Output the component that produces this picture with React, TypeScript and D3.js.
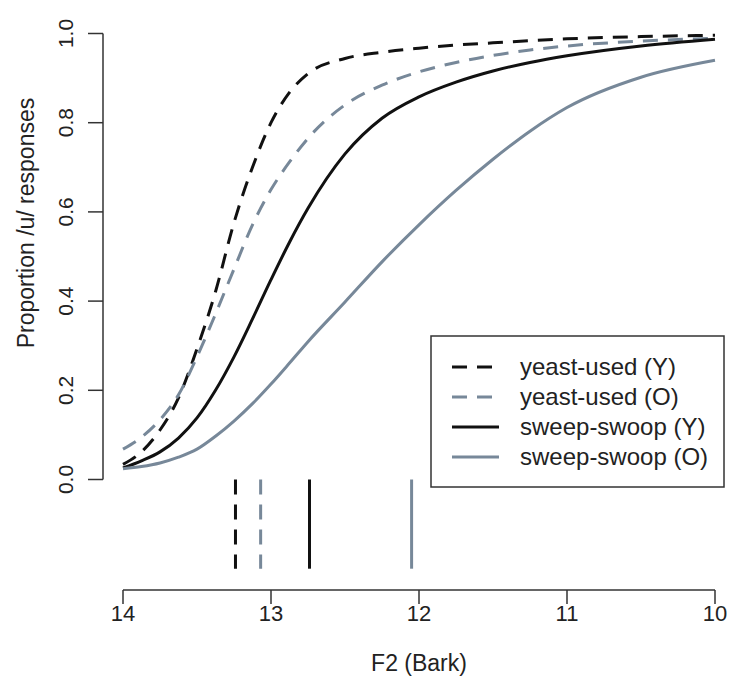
import React, { useRef, useEffect } from 'react';
import * as d3 from 'd3';

// F2 (Bark) sample points
const f2 = [14, 13.875, 13.75, 13.625, 13.5, 13.375, 13.25, 13.125, 13, 12.875, 12.75, 12.5, 12.25, 12, 11.75, 11.5, 11.25, 11, 10.5, 10];

// proportion /u/ responses
const yeastUsedY = [0.034, 0.062, 0.111, 0.183, 0.293, 0.421, 0.576, 0.700, 0.800, 0.868, 0.910, 0.944, 0.958, 0.967, 0.974, 0.979, 0.984, 0.988, 0.993, 0.996];
const yeastUsedO = [0.068, 0.095, 0.134, 0.190, 0.275, 0.371, 0.472, 0.571, 0.650, 0.712, 0.765, 0.840, 0.884, 0.914, 0.935, 0.951, 0.963, 0.972, 0.983, 0.989];
const sweepSwoopY = [0.026, 0.042, 0.062, 0.093, 0.138, 0.200, 0.275, 0.360, 0.448, 0.532, 0.608, 0.730, 0.810, 0.858, 0.891, 0.916, 0.935, 0.950, 0.972, 0.987];
const sweepSwoopO = [0.024, 0.029, 0.037, 0.050, 0.068, 0.097, 0.131, 0.170, 0.214, 0.261, 0.309, 0.398, 0.488, 0.571, 0.648, 0.718, 0.781, 0.834, 0.902, 0.940];

// 50% crossover boundaries
const boundaries = [13.24, 13.07, 12.74, 12.05];

const seriesNames = ['yeast-used (Y)', 'yeast-used (O)', 'sweep-swoop (Y)', 'sweep-swoop (O)'];

const xTicks = [14, 13, 12, 11, 10];
const yTicks = [0, 0.2, 0.4, 0.6, 0.8, 1];

const BLACK = '#111111';
const GREY = '#778899';
const FONT = '"Liberation Sans", Arial, sans-serif';

const App = () => {
  const ref = useRef(null);

  useEffect(() => {
    const svg = d3.select(ref.current);
    svg.selectAll('*').remove();

    const x = d3.scaleLinear().domain([14, 10]).range([123, 715]);
    const y = d3.scaleLinear().domain([0, 1]).range([479.5, 33.5]);

    const series = [yeastUsedY, yeastUsedO, sweepSwoopY, sweepSwoopO];
    const colors = [BLACK, GREY, BLACK, GREY];
    const dashes = ['15,10', '15,10', null, null];

    const line = d3.line().x(d => x(d[0])).y(d => y(d[1])).curve(d3.curveMonotoneX);

    // curves
    series.forEach((vals, i) => {
      svg.append('path')
        .datum(f2.map((v, j) => [v, vals[j]]))
        .attr('d', line)
        .attr('fill', 'none')
        .attr('stroke', colors[i])
        .attr('stroke-width', 3)
        .attr('stroke-dasharray', dashes[i]);
    });

    // boundary marks below the curves
    boundaries.forEach((b, i) => {
      svg.append('line')
        .attr('x1', x(b)).attr('x2', x(b))
        .attr('y1', y(0)).attr('y2', y(-0.2))
        .attr('stroke', colors[i])
        .attr('stroke-width', 3)
        .attr('stroke-dasharray', dashes[i]);
    });

    // x axis
    const axisY = y(-0.248);
    const gx = svg.append('g');
    gx.append('line').attr('x1', x(14)).attr('x2', x(10)).attr('y1', axisY).attr('y2', axisY)
      .attr('stroke', '#333').attr('stroke-width', 1.5);
    xTicks.forEach(t => {
      gx.append('line').attr('x1', x(t)).attr('x2', x(t)).attr('y1', axisY).attr('y2', axisY + 14)
        .attr('stroke', '#333').attr('stroke-width', 1.5);
      gx.append('text').attr('x', x(t)).attr('y', 621).attr('text-anchor', 'middle')
        .style('font-family', FONT).style('font-size', '22px').attr('fill', '#222').text(t);
    });
    gx.append('text').attr('x', (x(14) + x(10)) / 2).attr('y', 671).attr('text-anchor', 'middle')
      .style('font-family', FONT).style('font-size', '23px').attr('fill', '#222').text('F2 (Bark)');

    // y axis
    const axisX = 103;
    const gy = svg.append('g');
    gy.append('line').attr('x1', axisX).attr('x2', axisX).attr('y1', y(0)).attr('y2', y(1))
      .attr('stroke', '#333').attr('stroke-width', 1.5);
    yTicks.forEach(t => {
      gy.append('line').attr('x1', axisX - 15).attr('x2', axisX).attr('y1', y(t)).attr('y2', y(t))
        .attr('stroke', '#333').attr('stroke-width', 1.5);
      gy.append('text').attr('transform', `translate(73,${y(t)}) rotate(-90)`).attr('text-anchor', 'middle')
        .style('font-family', FONT).style('font-size', '21px').attr('fill', '#222').text(t.toFixed(1));
    });
    gy.append('text').attr('transform', `translate(34,${y(0.575)}) rotate(-90)`).attr('text-anchor', 'middle')
      .style('font-family', FONT).style('font-size', '23px').attr('fill', '#222').text('Proportion /u/ responses');

    // legend
    const lg = svg.append('g');
    lg.append('rect').attr('x', 431).attr('y', 336).attr('width', 293).attr('height', 151)
      .attr('fill', 'white').attr('stroke', '#333').attr('stroke-width', 1.5);
    seriesNames.forEach((name, i) => {
      const ly = 367 + i * 30;
      lg.append('line').attr('x1', 452).attr('x2', 499).attr('y1', ly).attr('y2', ly)
        .attr('stroke', colors[i]).attr('stroke-width', 3).attr('stroke-dasharray', dashes[i]);
      lg.append('text').attr('x', 520).attr('y', ly + 8).style('font-family', FONT).style('font-size', '24px')
        .attr('fill', '#222').text(name);
    });
  }, []);

  return <svg ref={ref} width={729} height={682} style={{ position: 'absolute', left: 0, top: 0, background: 'white' }} />;
};

export default App;
